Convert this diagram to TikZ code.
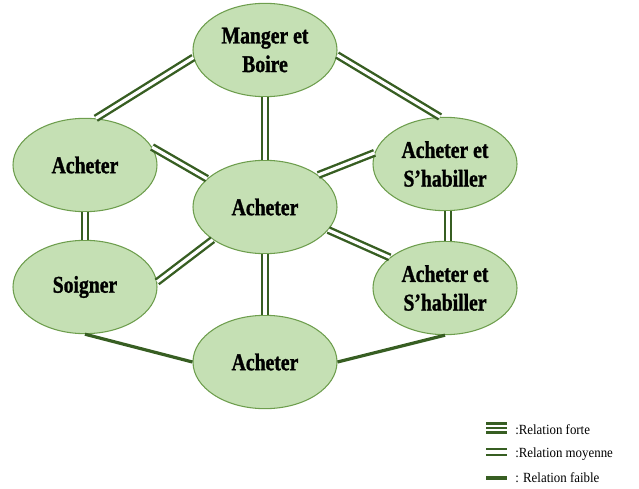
\documentclass[tikz,border=0pt]{standalone}
\usepackage{fontspec}
\setmainfont{Liberation Serif}
\newfontfamily\nodefont[FakeStretch=0.82,FakeBold=1.2]{Liberation Serif}
\newfontfamily\legfont[FakeStretch=0.92]{Liberation Serif}
\usetikzlibrary{shapes.geometric}
\definecolor{ellfill}{HTML}{C5E0B4}
\definecolor{elldraw}{HTML}{6E9E4E}
\definecolor{linkcol}{HTML}{375E22}
\tikzset{
  ell/.style={ellipse, draw=elldraw, line width=0.8pt, fill=ellfill, inner sep=0pt,
    minimum width=108pt, minimum height=70pt, align=center,
    font=\nodefont\bfseries\fontsize{18pt}{21.5pt}\selectfont},
  moyen/.style={draw=linkcol, line width=1.8pt, double=white, double distance=2.4pt},
  faible/.style={draw=linkcol, line width=2.4pt},
  legtext/.style={anchor=west, inner sep=0pt, font=\legfont\fontsize{10.5pt}{12pt}\selectfont}
}
\begin{document}
\begin{tikzpicture}[x=0.75pt,y=-0.75pt]
\useasboundingbox (0,0) rectangle (639,489);
\node[ell] (mb) at (265,50) {Manger et\\Boire};
\node[ell] (ach1) at (85,165) {Acheter};
\node[ell] (cen) at (265,207) {Acheter};
\node[ell] (sh1) at (445,164) {Acheter et\\S’habiller};
\node[ell] (soi) at (85,287) {Soigner};
\node[ell] (sh2) at (445,288) {Acheter et\\S’habiller};
\node[ell] (ach2) at (265,362) {Acheter};
\draw[moyen] (mb.186) -- (ach1.77);
\draw[moyen] (mb.356) -- (sh1.96);
\draw[moyen] (mb.south) -- (cen.north);
\draw[moyen] (ach1.15) -- (cen.154);
\draw[moyen] (ach1.south) -- (soi.north);
\draw[moyen] (soi.4) -- (cen.212);
\draw[moyen] (cen.31) -- (sh1.171);
\draw[moyen] (cen.340) -- (sh2.151);
\draw[moyen] ([xshift=2.25pt]sh1.south) -- ([xshift=2.25pt]sh2.north);
\draw[moyen] (cen.south) -- (ach2.north);
\draw[faible] (soi.south) -- (ach2.west);
\draw[faible] (ach2.east) -- (sh2.south);
% legend
\coordinate (f1a) at (486,423.5); \coordinate (f1b) at (507,423.5);
\coordinate (f2a) at (486,428) ; \coordinate (f2b) at (507,428);
\coordinate (f3a) at (486,432.5); \coordinate (f3b) at (507,432.5);
\draw[draw=linkcol, line width=2pt] (f1a) -- (f1b);
\draw[draw=linkcol, line width=2pt] (f2a) -- (f2b);
\draw[draw=linkcol, line width=2pt] (f3a) -- (f3b);
\coordinate (m1a) at (486,452); \coordinate (m1b) at (507,452);
\draw[moyen] (m1a) -- (m1b);
\coordinate (s1a) at (486,478); \coordinate (s1b) at (507,478);
\draw[faible] (s1a) -- (s1b);
\node[legtext] (lf) at (515,430) {:Relation forte};
\node[legtext] (lm) at (515,454) {:Relation moyenne};
\node[legtext] (lw) at (515,478) {: Relation faible};
\end{tikzpicture}
\end{document}
